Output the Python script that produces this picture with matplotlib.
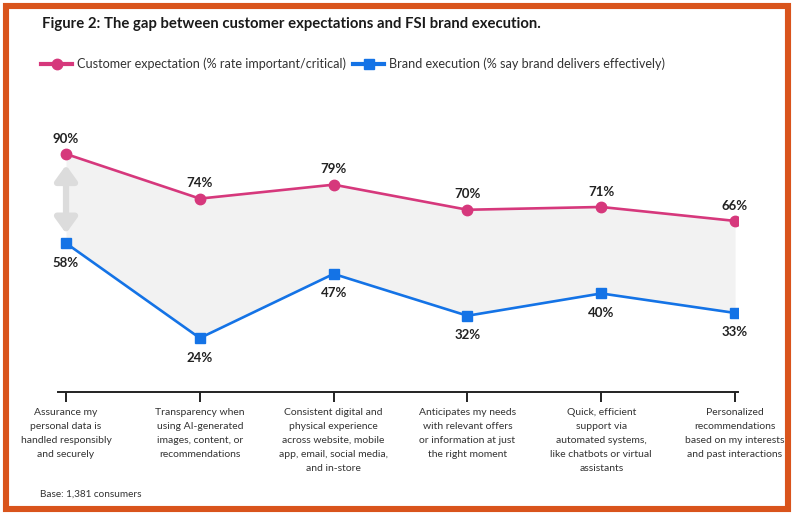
import matplotlib
matplotlib.use("Agg")
import matplotlib.pyplot as plt
from matplotlib.patches import Rectangle
from matplotlib.lines import Line2D

plt.rcParams['font.family'] = ['Lato', 'DejaVu Sans']

categories = [
    "Assurance my\npersonal data is\nhandled responsibly\nand securely",
    "Transparency when\nusing AI-generated\nimages, content, or\nrecommendations",
    "Consistent digital and\nphysical experience\nacross website, mobile\napp, email, social media,\nand in-store",
    "Anticipates my needs\nwith relevant offers\nor information at just\nthe right moment",
    "Quick, efficient\nsupport via\nautomated systems,\nlike chatbots or virtual\nassistants",
    "Personalized\nrecommendations\nbased on my interests\nand past interactions",
]
expectation = [90, 74, 79, 70, 71, 66]
execution = [58, 24, 47, 32, 40, 33]

PINK = "#d6387c"
BLUE = "#1473e6"
W, H = 800, 517

fig = plt.figure(figsize=(W / 100, H / 100), dpi=100)
fig.patch.set_facecolor("white")

# axes placed in pixel terms
ax_l, ax_r, ax_t, ax_b = 58, 738, 130, 392
ax = fig.add_axes([ax_l / W, (H - ax_b) / H, (ax_r - ax_l) / W, (ax_b - ax_t) / H])
x = list(range(len(categories)))

ax.fill_between(x, execution, expectation, color="#f2f2f2", lw=0, zorder=1)
ax.plot(x, expectation, color=PINK, lw=1.9, marker="o", ms=7.5, zorder=3)
ax.plot(x, execution, color=BLUE, lw=1.9, marker="s", ms=7.5, zorder=3)

# gap arrow on first category
ax.annotate("", xy=(x[0], expectation[0] - 4), xytext=(x[0], execution[0] + 3.5),
            arrowprops=dict(arrowstyle="<|-|>,head_width=0.65,head_length=0.9",
                            lw=4.5, color="#dcdcdc", shrinkA=0, shrinkB=0), zorder=2)

for xi, v in zip(x, expectation):
    ax.annotate(f"{v}%", (xi, v), xytext=(0, 11), textcoords="offset points",
                ha="center", va="center", fontsize=9.5, fontweight="bold", color="#222222")
for xi, v in zip(x, execution):
    ax.annotate(f"{v}%", (xi, v), xytext=(0, -14), textcoords="offset points",
                ha="center", va="center", fontsize=9.5, fontweight="bold", color="#222222")

ax.set_xlim(-0.06, 5.022)
ax.set_ylim(4.66, 98.6)
for s in ["top", "right", "left"]:
    ax.spines[s].set_visible(False)
ax.spines["bottom"].set_linewidth(1.4)
ax.spines["bottom"].set_color("#222222")
ax.set_yticks([])
ax.set_xticks(x)
ax.set_xticklabels(categories, fontsize=7.5, color="#333333", linespacing=1.7, va="top")
ax.tick_params(axis="x", direction="out", length=7.5, width=1.4, color="#222222", pad=4)

fig.text(42 / W, 1 - 24 / H, "Figure 2: The gap between customer expectations and FSI brand execution.",
         fontsize=10.7, fontweight="bold", color="#1a1a1a", va="center", ha="left")

# legend
leg_handles = [
    Line2D([], [], color=PINK, lw=3, marker="o", ms=7.5),
    Line2D([], [], color=BLUE, lw=3, marker="s", ms=7.5),
]
fig.legend(leg_handles,
           ["Customer expectation (% rate important/critical)",
            "Brand execution (% say brand delivers effectively)"],
           loc="center left", bbox_to_anchor=(30 / W, 1 - 64 / H), ncol=2, frameon=False,
           fontsize=9.1, handlelength=2.4, handletextpad=0.4, columnspacing=0.6,
           labelcolor="#333333")

fig.text(40 / W, 1 - 494 / H, "Base: 1,381 consumers", fontsize=7.2, color="#333333",
         va="center", ha="left")

# orange frame
fig.add_artist(Rectangle((6 / W, 8 / H), 781.5 / W, 503 / H, transform=fig.transFigure,
                         fill=False, edgecolor="#d9541c", lw=4.4))

fig.savefig("out.png", dpi=100)
